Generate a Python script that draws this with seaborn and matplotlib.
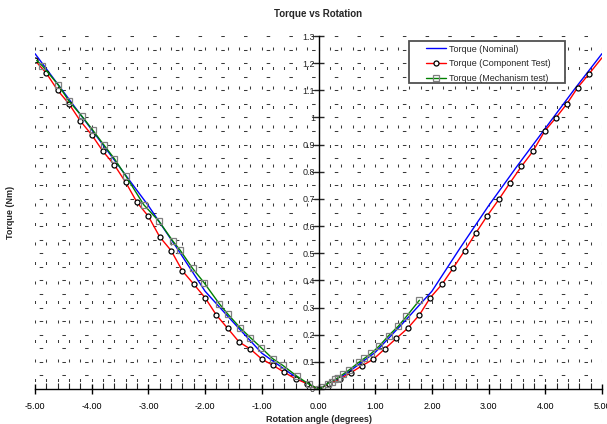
import numpy as np
import pandas as pd
import matplotlib
matplotlib.use("Agg")
import matplotlib.pyplot as plt
import matplotlib.patches as mpatches
import seaborn as sns
from matplotlib.ticker import MultipleLocator, FuncFormatter

# ---- data ----
nominal_x = [-5.0, -4.5, -4.0, -3.5, -3.0, -2.5, -2.0, -1.5, -1.0, -0.5, -0.25, 0.0,
             0.25, 0.5, 1.0, 1.5, 2.0, 2.5, 3.0, 3.5, 4.0, 4.5, 5.0]
nominal_y = [1.235, 1.095, 0.955, 0.815, 0.675, 0.52, 0.36, 0.245, 0.132, 0.058, 0.025, 0.0,
             0.025, 0.058, 0.135, 0.245, 0.36, 0.52, 0.675, 0.82, 0.96, 1.10, 1.235]

component_x = [-5.1, -5.0, -4.8, -4.6, -4.4, -4.2, -4.0, -3.8, -3.6, -3.4, -3.2, -3.0, -2.8,
               -2.6, -2.4, -2.2, -2.0, -1.8, -1.6, -1.4, -1.2, -1.0, -0.8, -0.6,
               -0.4, -0.2, 0.0, 0.18, 0.38, 0.57, 0.77, 0.97, 1.17, 1.37, 1.57,
               1.78, 1.97, 2.18, 2.38, 2.58, 2.77, 2.97, 3.18, 3.38, 3.58, 3.78,
               3.99, 4.18, 4.38, 4.57, 4.77, 5.0]
component_y = [1.265, 1.21, 1.163, 1.10, 1.05, 0.987, 0.936, 0.875, 0.825, 0.761, 0.687, 0.636, 0.56,
               0.51, 0.435, 0.386, 0.336, 0.272, 0.223, 0.173, 0.147, 0.110, 0.087, 0.061,
               0.037, 0.020, 0.0, 0.018, 0.037, 0.060, 0.086, 0.110, 0.148, 0.186, 0.223,
               0.273, 0.336, 0.386, 0.447, 0.51, 0.573, 0.636, 0.698, 0.76, 0.82, 0.875,
               0.95, 0.997, 1.05, 1.11, 1.16, 1.22]

mechanism_x = [-4.97, -4.87, -4.59, -4.40, -4.17, -3.98, -3.79, -3.60, -3.40, -3.08, -2.81, -2.57,
               -2.44, -2.22, -2.02, -1.75, -1.60, -1.38, -1.20, -1.01, -0.81, -0.63,
               -0.38, -0.17, 0.0, 0.07, 0.16, 0.23, 0.29, 0.35, 0.43, 0.54, 0.71, 0.81,
               0.93, 1.07, 1.24, 1.41, 1.55, 1.78]
mechanism_y = [1.21, 1.19, 1.12, 1.06, 1.004, 0.953, 0.90, 0.848, 0.785, 0.678, 0.617, 0.545,
               0.511, 0.444, 0.392, 0.314, 0.276, 0.225, 0.189, 0.152, 0.112, 0.087,
               0.047, 0.018, 0.0, 0.006, 0.02, 0.027, 0.035, 0.042, 0.054, 0.070, 0.098, 0.113,
               0.131, 0.158, 0.197, 0.232, 0.267, 0.327]

labels = ["Torque (Nominal)", "Torque (Component Test)", "Torque (Mechanism test)"]

# ---- style ----
sns.set_theme(style="white")
plt.rcParams["font.family"] = ["Liberation Sans", "DejaVu Sans"]
plt.rcParams["axes.unicode_minus"] = False
plt.rcParams["lines.scale_dashes"] = False

W, H = 607, 424
fig = plt.figure(figsize=(W / 100, H / 100), dpi=100)
ax = fig.add_axes([35 / W, 35 / H, 567 / W, 353 / H])
ax.set_xlim(-5, 5)
ax.set_ylim(0, 1.3)

PT = 0.72  # points per pixel at 100 dpi
# grid (sparse dashed marks)
for xv in np.arange(-5, 5.001, 0.2):
    ax.axvline(xv, color="#3a3a3a", lw=0.75,
               ls=(12.0 * PT, (3.0 * PT, 16.5 * PT)), zorder=0)
for yv in np.arange(0.05, 1.301, 0.05):
    ax.axhline(yv, color="#3a3a3a", lw=0.75,
               ls=(18.5 * PT, (3.5 * PT, 19.2 * PT)), zorder=0)

df_n = pd.DataFrame({"x": nominal_x, "y": nominal_y})
df_c = pd.DataFrame({"x": component_x, "y": component_y})
df_m = pd.DataFrame({"x": mechanism_x, "y": mechanism_y})

sns.lineplot(data=df_n, x="x", y="y", ax=ax, color="#0000ff", lw=1.0, sort=False,
             label=labels[0], zorder=3)
sns.lineplot(data=df_c, x="x", y="y", ax=ax, color="#ff0000", lw=1.0, sort=False,
             marker="o", markersize=3.6, markerfacecolor="white", markeredgecolor="black",
             markeredgewidth=0.9, markevery=list(range(1, len(component_x) - 1)),
             label=labels[1], zorder=4)
sns.lineplot(data=df_m, x="x", y="y", ax=ax, color="#008000", lw=1.0, sort=False,
             marker="s", markersize=3.8, markerfacecolor="none", markeredgecolor="#808080",
             markeredgewidth=0.9, markevery=list(range(1, len(mechanism_x))),
             label=labels[2], zorder=5)

# spines through origin
ax.spines["left"].set_position(("data", 0))
ax.spines["bottom"].set_position(("data", 0))
ax.spines["top"].set_visible(False)
ax.spines["right"].set_visible(False)
for s in ("left", "bottom"):
    ax.spines[s].set_color("black")
    ax.spines[s].set_linewidth(1.0)
    ax.spines[s].set_zorder(6)

ax.xaxis.set_major_locator(MultipleLocator(1.0))
ax.xaxis.set_minor_locator(MultipleLocator(0.2))
ax.yaxis.set_major_locator(MultipleLocator(0.1))
ax.xaxis.set_major_formatter(FuncFormatter(lambda v, p: f"{v:.2f}"))
ax.yaxis.set_major_formatter(FuncFormatter(
    lambda v, p: "0" if abs(v) < 1e-9 else f"{v:.1f}".rstrip("0").rstrip(".")))
ax.tick_params(axis="x", which="major", direction="inout", length=7, width=1.0,
               labelsize=6.5, pad=6, bottom=True, colors="black")
ax.tick_params(axis="x", which="minor", direction="in", length=4, width=0.8,
               bottom=True)
ax.tick_params(axis="y", which="major", direction="inout", length=7, width=1.0,
               labelsize=6.5, pad=-1, left=True)

ax.set_xlabel("Rotation angle (degrees)", fontsize=6.5, fontweight="bold", labelpad=3)
ax.set_ylabel("Torque (Nm)", fontsize=6.5, fontweight="bold")
ax.yaxis.set_label_coords(-0.035, 0.5)
ax.set_title("Torque vs Rotation", fontsize=7, fontweight="bold", pad=14)

# legend box (frame drawn separately to match the reference proportions)
frame = mpatches.Rectangle((409 / W, 1 - 83 / H), 156 / W, 42 / H, transform=fig.transFigure,
                           facecolor="white", edgecolor="#505050", lw=1.3,
                           zorder=9, clip_on=False)
ax.add_patch(frame)
leg = ax.legend(loc="upper left", bbox_to_anchor=(426 / W, 1 - 44.5 / H),
                bbox_transform=fig.transFigure,
                fontsize=6.5, frameon=False, handlelength=2.25,
                borderpad=0.0, labelspacing=0.66, handletextpad=0.25, borderaxespad=0.0)
leg.set_zorder(10)

fig.savefig("out.png", dpi=100)
